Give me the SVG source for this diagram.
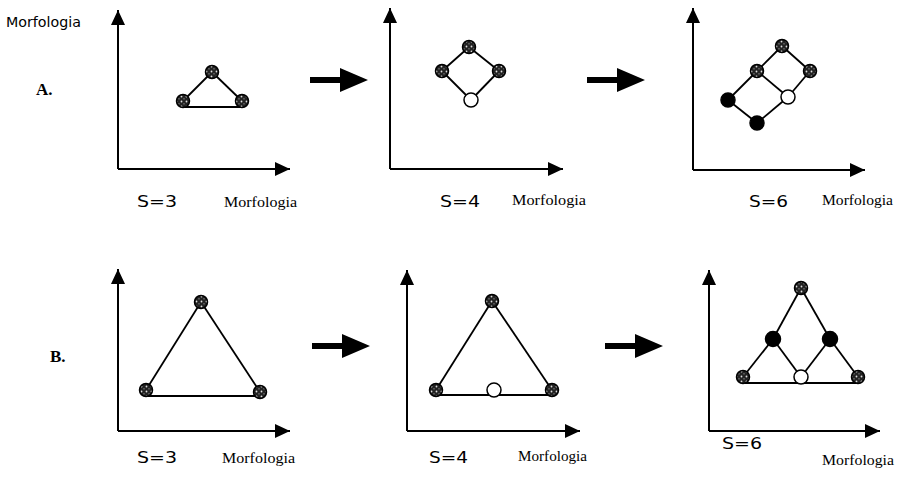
<svg xmlns="http://www.w3.org/2000/svg" width="899" height="477" viewBox="0 0 899 477">
<style>
.axis{stroke:#000;stroke-width:2;fill:none}
.edge{stroke:#000;stroke-width:1.8;fill:none}
.grey{fill:url(#speckle);stroke:#000;stroke-width:1.5}
.black{fill:#000;stroke:#000;stroke-width:1.5}
.white{fill:#fff;stroke:#000;stroke-width:1.5}
.big{fill:#000}
.s{font-family:"DejaVu Sans",sans-serif;font-size:16px;fill:#000}
.m{font-family:"Liberation Serif",serif;font-size:14px;fill:#000}
.ms{font-family:"DejaVu Sans",sans-serif;font-size:14px;fill:#000}
.lab{font-family:"Liberation Serif",serif;font-size:17px;font-weight:bold;fill:#000}
</style>
<defs>
<pattern id="speckle" patternUnits="userSpaceOnUse" width="5" height="5">
<rect width="5" height="5" fill="#222"/>
<circle cx="1.5" cy="1.5" r="0.9" fill="#ddd"/>
<circle cx="4" cy="3.8" r="0.6" fill="#bbb"/>
</pattern>
<marker id="ah" markerUnits="userSpaceOnUse" markerWidth="15" markerHeight="14" refX="15" refY="7" orient="auto">
<path d="M0,0 L15,7 L0,14 Z" fill="#000"/>
</marker>
<path id="bigArrow" d="M0,-3 H30 V-12 L58,0 L30,12 V3 H0 Z"/>
</defs>

<g id="axes">
<path class="axis" d="M118,169 V10" marker-end="url(#ah)"/>
<path class="axis" d="M118,169 H290" marker-end="url(#ah)"/>
<path class="axis" d="M390,169 V8" marker-end="url(#ah)"/>
<path class="axis" d="M390,169 H563" marker-end="url(#ah)"/>
<path class="axis" d="M693,170 V8" marker-end="url(#ah)"/>
<path class="axis" d="M693,170 H865" marker-end="url(#ah)"/>
<path class="axis" d="M118,431 V269" marker-end="url(#ah)"/>
<path class="axis" d="M118,431 H290" marker-end="url(#ah)"/>
<path class="axis" d="M407,431 V270" marker-end="url(#ah)"/>
<path class="axis" d="M407,431 H580" marker-end="url(#ah)"/>
<path class="axis" d="M709,431 V270" marker-end="url(#ah)"/>
<path class="axis" d="M709,431 H880" marker-end="url(#ah)"/>
</g>

<g id="transitions">
<use href="#bigArrow" class="big" x="310" y="80"/>
<use href="#bigArrow" class="big" x="587" y="80"/>
<use href="#bigArrow" class="big" x="312" y="346"/>
<use href="#bigArrow" class="big" x="605" y="346"/>
</g>

<g id="connectors">
<!-- A1 -->
<line class="edge" x1="212" y1="72" x2="183" y2="101"/>
<line class="edge" x1="212" y1="72" x2="242" y2="101"/>
<line class="edge" x1="185" y1="107" x2="240" y2="107"/>
<!-- A2 -->
<line class="edge" x1="469" y1="47" x2="442" y2="71"/>
<line class="edge" x1="469" y1="47" x2="499" y2="71"/>
<line class="edge" x1="442" y1="71" x2="471" y2="100"/>
<line class="edge" x1="499" y1="71" x2="471" y2="100"/>
<!-- A3 -->
<line class="edge" x1="782" y1="46" x2="757" y2="71"/>
<line class="edge" x1="782" y1="46" x2="810" y2="71"/>
<line class="edge" x1="757" y1="71" x2="728" y2="100"/>
<line class="edge" x1="757" y1="71" x2="788" y2="97"/>
<line class="edge" x1="810" y1="71" x2="788" y2="97"/>
<line class="edge" x1="728" y1="100" x2="757" y2="123"/>
<line class="edge" x1="757" y1="123" x2="788" y2="97"/>
<!-- B1 -->
<line class="edge" x1="201" y1="302" x2="146" y2="390"/>
<line class="edge" x1="201" y1="302" x2="260" y2="392"/>
<line class="edge" x1="148" y1="396" x2="258" y2="396"/>
<!-- B2 -->
<line class="edge" x1="492" y1="301" x2="436" y2="390"/>
<line class="edge" x1="492" y1="301" x2="552" y2="390"/>
<line class="edge" x1="438" y1="395" x2="550" y2="395"/>
<!-- B3 -->
<line class="edge" x1="801" y1="288" x2="773" y2="339"/>
<line class="edge" x1="801" y1="288" x2="830" y2="339"/>
<line class="edge" x1="773" y1="339" x2="743" y2="377"/>
<line class="edge" x1="773" y1="339" x2="801" y2="377"/>
<line class="edge" x1="830" y1="339" x2="801" y2="377"/>
<line class="edge" x1="830" y1="339" x2="858" y2="377"/>
<line class="edge" x1="745" y1="383" x2="856" y2="383"/>
</g>

<g id="A1-top"><circle class="grey" cx="212" cy="72" r="6.5"/></g>
<g id="A1-left"><circle class="grey" cx="183" cy="101" r="6.5"/></g>
<g id="A1-right"><circle class="grey" cx="242" cy="101" r="6.5"/></g>

<g id="A2-top"><circle class="grey" cx="469" cy="47" r="6.5"/></g>
<g id="A2-left"><circle class="grey" cx="442" cy="71" r="6.5"/></g>
<g id="A2-right"><circle class="grey" cx="499" cy="71" r="6.5"/></g>
<g id="A2-new"><circle class="white" cx="471" cy="100" r="7"/></g>

<g id="A3-top"><circle class="grey" cx="782" cy="46" r="6.5"/></g>
<g id="A3-midleft"><circle class="grey" cx="757" cy="71" r="6.5"/></g>
<g id="A3-right"><circle class="grey" cx="810" cy="71" r="6.5"/></g>
<g id="A3-white"><circle class="white" cx="788" cy="97" r="7"/></g>
<g id="A3-black-left"><circle class="black" cx="728" cy="100" r="7"/></g>
<g id="A3-black-bottom"><circle class="black" cx="757" cy="123" r="7"/></g>

<g id="B1-top"><circle class="grey" cx="201" cy="302" r="6.5"/></g>
<g id="B1-left"><circle class="grey" cx="146" cy="390" r="6.5"/></g>
<g id="B1-right"><circle class="grey" cx="260" cy="392" r="6.5"/></g>

<g id="B2-top"><circle class="grey" cx="492" cy="301" r="6.5"/></g>
<g id="B2-left"><circle class="grey" cx="436" cy="390" r="6.5"/></g>
<g id="B2-white"><circle class="white" cx="494" cy="390" r="7"/></g>
<g id="B2-right"><circle class="grey" cx="552" cy="390" r="6.5"/></g>

<g id="B3-top"><circle class="grey" cx="801" cy="288" r="6.5"/></g>
<g id="B3-black-left"><circle class="black" cx="773" cy="339" r="7.5"/></g>
<g id="B3-black-right"><circle class="black" cx="830" cy="339" r="7.5"/></g>
<g id="B3-left"><circle class="grey" cx="743" cy="377" r="6.5"/></g>
<g id="B3-white"><circle class="white" cx="801" cy="377" r="7"/></g>
<g id="B3-right"><circle class="grey" cx="858" cy="377" r="6.5"/></g>

<g id="labels">
<text class="ms" x="6" y="27" textLength="75" lengthAdjust="spacingAndGlyphs">Morfologia</text>
<text class="lab" x="36" y="95">A.</text>
<text class="lab" x="50" y="362">B.</text>
<text class="s" x="137" y="207" textLength="40" lengthAdjust="spacingAndGlyphs">S=3</text>
<text class="s" x="440" y="207" textLength="40" lengthAdjust="spacingAndGlyphs">S=4</text>
<text class="s" x="749" y="207" textLength="39" lengthAdjust="spacingAndGlyphs">S=6</text>
<text class="s" x="137" y="463" textLength="40" lengthAdjust="spacingAndGlyphs">S=3</text>
<text class="s" x="429" y="463" textLength="39" lengthAdjust="spacingAndGlyphs">S=4</text>
<text class="s" x="722" y="449" textLength="40" lengthAdjust="spacingAndGlyphs">S=6</text>
<text class="m" x="224" y="207" textLength="73" lengthAdjust="spacingAndGlyphs">Morfologia</text>
<text class="m" x="512" y="205" textLength="74" lengthAdjust="spacingAndGlyphs">Morfologia</text>
<text class="m" x="822" y="205" textLength="71" lengthAdjust="spacingAndGlyphs">Morfologia</text>
<text class="m" x="222" y="463" textLength="73" lengthAdjust="spacingAndGlyphs">Morfologia</text>
<text class="m" x="518" y="461" textLength="69" lengthAdjust="spacingAndGlyphs">Morfologia</text>
<text class="m" x="822" y="465" textLength="72" lengthAdjust="spacingAndGlyphs">Morfologia</text>
</g>
</svg>
